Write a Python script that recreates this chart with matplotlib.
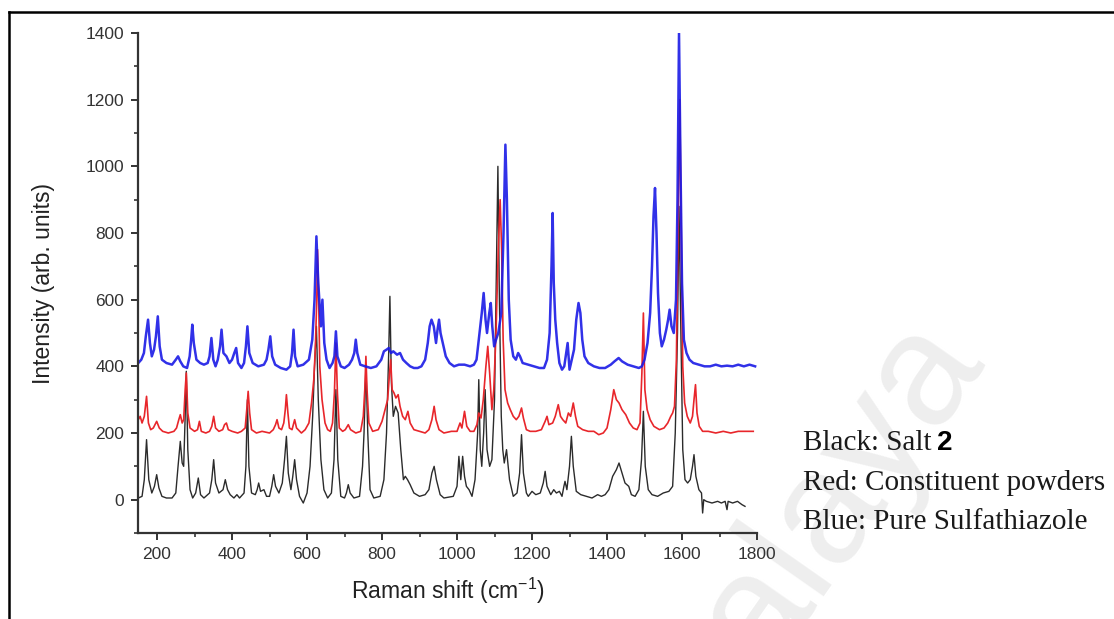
import matplotlib
matplotlib.use("Agg")
import matplotlib.pyplot as plt
from matplotlib.lines import Line2D

# Raman spectra (x in cm-1, y in arb. units, offsets included)
black_x = [150, 160, 166, 172, 178, 186, 193, 199, 205, 213, 225, 240, 250, 256, 262, 267, 271, 275, 278, 282,
           288, 295, 303, 310, 316, 325, 340, 346, 351, 356, 365, 376, 382, 388, 395, 405, 413, 420, 432, 437,
           441, 445, 452, 462, 467, 471, 476, 485, 492, 500, 506, 511, 516, 525, 534, 540, 545, 550, 557, 562,
           567, 572, 580, 590, 600, 608, 615, 620, 625, 630, 637, 645, 655, 665, 672, 677, 682, 690, 700, 705,
           710, 715, 725, 740, 748, 752, 757, 762, 768, 778, 795, 805, 812, 818, 821, 825, 830, 836, 843, 850,
           857, 862, 868, 875, 885, 900, 915, 925, 933, 939, 945, 955, 965, 990, 1000, 1005, 1010, 1015, 1020, 1025,
           1032, 1040, 1048, 1055, 1058, 1062, 1066, 1071, 1075, 1080, 1087, 1093, 1100, 1105, 1109, 1113, 1118, 1122, 1126, 1132,
           1140, 1150, 1160, 1167, 1172, 1177, 1185, 1190, 1200, 1210, 1222, 1230, 1235, 1240, 1250, 1258, 1265, 1273, 1280, 1285,
           1288, 1293, 1300, 1305, 1310, 1318, 1330, 1345, 1360, 1375, 1385, 1395, 1405, 1415, 1425, 1432, 1440, 1448, 1458, 1465,
           1475, 1485, 1492, 1497, 1502, 1510, 1520, 1535, 1550, 1565, 1575, 1582, 1588, 1592, 1597, 1602, 1608, 1615, 1622, 1628,
           1632, 1637, 1645, 1652, 1655, 1658, 1665, 1680, 1695, 1705, 1715, 1720, 1723, 1735, 1748, 1760, 1768]
black_y = [5, 10, 60, 180, 60, 20, 40, 75, 35, 10, 5, 5, 20, 100, 175, 110, 100, 250, 385, 150,
           30, 5, 20, 65, 15, 5, 20, 60, 120, 50, 20, 30, 60, 30, 15, 5, 15, 5, 20, 100,
           300, 100, 20, 15, 30, 50, 25, 30, 10, 10, 40, 75, 40, 20, 50, 120, 190, 80, 30, 70,
           120, 60, 10, -10, 20, 100, 250, 400, 520, 300, 120, 30, 5, 20, 120, 330, 120, 10, 5, 20,
           45, 20, 5, 10, 100, 200, 400, 200, 30, 5, 10, 60, 200, 450, 610, 350, 250, 280, 260, 150,
           60, 70, 60, 45, 20, 10, 15, 30, 80, 100, 60, 15, 5, 10, 40, 130, 60, 130, 70, 40,
           30, 10, 60, 200, 360, 150, 100, 200, 330, 150, 100, 120, 300, 700, 1000, 600, 250, 150, 110, 150,
           60, 10, 20, 80, 195, 80, 20, 10, 25, 15, 20, 50, 85, 40, 15, 30, 20, 25, 10, 40,
           55, 30, 100, 190, 100, 25, 15, 10, 5, 15, 10, 15, 30, 70, 90, 110, 80, 50, 40, 15,
           10, 30, 120, 265, 100, 30, 15, 10, 20, 25, 40, 200, 500, 880, 500, 150, 60, 50, 60, 100,
           135, 70, 30, 20, -40, 0, -5, -10, -5, -10, -5, -30, -5, -10, -5, -15, -20]

red_x = [150, 155, 160, 166, 172, 177, 183, 190, 199, 206, 215, 230, 245, 252, 258, 262, 267, 271, 275, 278,
         282, 288, 300, 308, 313, 318, 330, 340, 346, 351, 356, 365, 375, 380, 385, 390, 400, 415, 425, 435,
         440, 443, 447, 452, 465, 480, 500, 510, 516, 520, 525, 532, 538, 542, 545, 549, 553, 560, 567, 572,
         585, 595, 605, 612, 618, 622, 626, 628, 631, 634, 640, 648, 655, 662, 668, 673, 677, 681, 686, 695,
         702, 710, 716, 730, 743, 750, 754, 757, 760, 765, 775, 790, 800, 808, 815, 820, 823, 827, 832, 837,
         843, 848, 855, 862, 869, 875, 885, 900, 915, 925, 933, 939, 944, 952, 965, 985, 1000, 1008, 1013, 1020,
         1026, 1035, 1045, 1053, 1058, 1064, 1070, 1077, 1082, 1087, 1093, 1098, 1104, 1110, 1115, 1119, 1123, 1128, 1135, 1142,
         1150, 1158, 1165, 1172, 1177, 1185, 1195, 1210, 1225, 1235, 1240, 1245, 1255, 1262, 1270, 1276, 1282, 1290, 1297, 1303,
         1310, 1316, 1322, 1335, 1350, 1365, 1378, 1390, 1400, 1410, 1418, 1425, 1432, 1440, 1450, 1460, 1470, 1480, 1488, 1493,
         1497, 1501, 1507, 1515, 1525, 1540, 1552, 1562, 1570, 1575, 1580, 1585, 1590, 1594, 1598, 1602, 1607, 1614, 1622, 1628,
         1632, 1636, 1640, 1646, 1655, 1670, 1690, 1710, 1730, 1750, 1770, 1790]
red_y = [240, 250, 230, 250, 310, 230, 210, 215, 235, 215, 205, 200, 205, 215, 240, 255, 230, 240, 330, 380,
         260, 215, 205, 210, 235, 205, 200, 205, 220, 250, 215, 205, 210, 225, 230, 210, 205, 200, 205, 215,
         280, 325, 260, 210, 200, 205, 200, 210, 225, 240, 215, 210, 230, 270, 315, 260, 215, 210, 240, 215,
         200, 210, 230, 290, 360, 450, 600, 750, 600, 400, 300, 230, 210, 205, 230, 320, 470, 320, 215, 205,
         210, 225, 210, 200, 205, 250, 330, 430, 330, 230, 205, 210, 235, 270, 300, 380, 420, 330, 320, 305,
         315, 280, 250, 240, 265, 230, 210, 205, 200, 210, 240, 280, 240, 210, 200, 205, 205, 230, 215, 265,
         220, 205, 205, 225, 260, 245, 300, 400, 460, 380, 270, 330, 500, 750, 900, 750, 480, 330, 290, 270,
         250, 240, 250, 275, 245, 210, 205, 205, 210, 235, 250, 225, 230, 250, 285, 250, 240, 230, 260, 250,
         290, 250, 220, 210, 205, 205, 195, 200, 215, 270, 330, 300, 290, 270, 255, 230, 215, 210, 230, 380,
         560, 330, 270, 240, 220, 210, 215, 230, 250, 260, 280, 420, 850, 1200, 800, 400, 290, 250, 230, 250,
         300, 345, 260, 220, 205, 205, 200, 205, 200, 205, 205, 205]

blue_x = [150, 158, 165, 170, 176, 181, 186, 192, 197, 202, 207, 213, 225, 240, 250, 256, 262, 270, 280, 287,
          291, 294, 298, 305, 315, 325, 335, 340, 345, 350, 356, 362, 368, 372, 377, 385, 393, 400, 406, 411,
          416, 425, 432, 437, 441, 446, 455, 470, 485, 492, 497, 502, 507, 515, 530, 545, 555, 560, 564, 568,
          575, 590, 605, 614, 620, 625, 630, 637, 641, 646, 652, 660, 668, 673, 677, 681, 690, 700, 712, 720,
          726, 730, 734, 742, 755, 770, 785, 798, 805, 812, 818, 824, 830, 840, 848, 856, 865, 875, 885, 895,
          905, 915, 922, 927, 932, 938, 944, 948, 952, 956, 962, 970, 980, 992, 1005, 1020, 1035, 1045, 1052, 1060,
          1066, 1071, 1076, 1080, 1086, 1090, 1094, 1099, 1104, 1110, 1118, 1124, 1129, 1133, 1138, 1143, 1150, 1157, 1163, 1168,
          1175, 1190, 1205, 1220, 1232, 1240, 1247, 1252, 1255, 1258, 1262, 1267, 1273, 1280, 1286, 1291, 1295, 1300, 1306, 1312,
          1318, 1324, 1329, 1334, 1340, 1350, 1365, 1380, 1395, 1410, 1420, 1431, 1440, 1455, 1470, 1485, 1493, 1500, 1508, 1515,
          1520, 1524, 1528, 1532, 1536, 1541, 1546, 1552, 1558, 1563, 1567, 1572, 1578, 1584, 1588, 1592, 1596, 1600, 1605, 1612,
          1620, 1630, 1645, 1660, 1675, 1690, 1705, 1720, 1735, 1750, 1765, 1780, 1795]
blue_y = [410, 420, 440, 490, 540, 470, 430, 450, 490, 550, 460, 420, 410, 405, 420, 430, 415, 400, 395, 430,
          480, 525, 470, 420, 410, 405, 410, 430, 485, 420, 400, 420, 460, 510, 440, 430, 410, 420, 440, 455,
          410, 395, 410, 460, 520, 440, 410, 400, 405, 420, 450, 490, 430, 405, 395, 390, 400, 440, 510, 430,
          400, 405, 420, 480, 600, 790, 650, 520, 600, 470, 420, 395, 410, 430, 505, 430, 400, 395, 405, 420,
          440, 480, 440, 405, 400, 395, 400, 420, 445, 450, 455, 440, 445, 435, 440, 420, 410, 400, 395, 395,
          400, 420, 470, 520, 540, 520, 470, 510, 540, 500, 470, 430, 410, 400, 405, 405, 400, 405, 420, 500,
          560, 620, 540, 500, 560, 590, 520, 460, 480, 500, 560, 800, 1065, 900, 600, 480, 430, 420, 440, 430,
          410, 405, 400, 395, 395, 420, 500, 700, 860, 650, 540, 470, 410, 390, 400, 440, 470, 390, 420, 450,
          540, 590, 560, 480, 430, 410, 400, 395, 395, 405, 415, 425, 415, 405, 400, 395, 400, 420, 470, 560,
          700, 850, 935, 800, 620, 500, 460, 480, 510, 540, 570, 520, 500, 600, 900, 1400, 1000, 650, 480, 440,
          420, 410, 405, 400, 400, 405, 400, 402, 400, 405, 400, 405, 400]

x_ticks = [200, 400, 600, 800, 1000, 1200, 1400, 1600, 1800]
y_ticks = [0, 200, 400, 600, 800, 1000, 1200, 1400]
notes = ["Black: Salt", "Red: Constituent powders", "Blue: Pure Sulfathiazole"]

plt.rcParams['font.family'] = ['Liberation Sans', 'DejaVu Sans']
plt.rcParams['mathtext.default'] = 'regular'

fig = plt.figure(figsize=(11.14, 6.19), dpi=100)
W, H = 1114.0, 619.0

# faint watermark behind everything
fig.text(800 / W, 1 - 540 / H, "Malaya", rotation=55, fontsize=115, color='#eeeeee',
         ha='center', va='center', zorder=0)

ax = fig.add_axes([138.3 / W, 1 - 533 / H, (757 - 138.3) / W, 500 / H])
ax.set_zorder(2)
ax.set_facecolor('none')
ax.plot(black_x, black_y, color='#2b2b2b', lw=1.0)
ax.plot(red_x, red_y, color='#e8262b', lw=1.2)
ax.plot(blue_x, blue_y, color='#1a1ae6', lw=1.8, alpha=0.9)

ax.set_xlim(150, 1800)
ax.set_ylim(-100, 1400)
ax.set_xticks(x_ticks)
ax.set_yticks(y_ticks)
ax.set_xticks(range(300, 1800, 200), minor=True)
ax.set_yticks(range(-100, 1400, 200), minor=True)
for s in ['top', 'right']:
    ax.spines[s].set_visible(False)
for s in ['left', 'bottom']:
    ax.spines[s].set_linewidth(1.6)
    ax.spines[s].set_color('#333333')
ax.tick_params(which='major', direction='out', length=5, width=1.4, color='#333333',
               labelsize=12.5, labelcolor='#333333', pad=5)
ax.tick_params(which='minor', direction='out', length=3, width=1.2, color='#333333')
ax.set_xlabel("Raman shift (cm$^{-1}$)", fontsize=16.5, color='#222222', labelpad=10)
ax.set_ylabel("Intensity (arb. units)", fontsize=16.5, color='#222222', labelpad=22)

# legend text on the right
ys = [450, 490, 529]
for t, yy in zip(notes, ys):
    txt = fig.text(803 / W, 1 - yy / H, t, fontsize=21, family='Liberation Serif',
                   color='#1a1a1a', va='baseline', zorder=3)
    if t.startswith("Black"):
        fig.canvas.draw()
        bb = txt.get_window_extent()
        fig.text((bb.x1 + 5) / W, 1 - yy / H, "2", fontsize=20, fontweight='bold',
                 family='Liberation Sans', color='black', va='baseline', zorder=3)

# frame line on left and top
fig.add_artist(Line2D([9 / W, 9 / W], [0, 1 - 12 / H], color='black', lw=1.8))
fig.add_artist(Line2D([9 / W, 1], [1 - 12 / H, 1 - 12 / H], color='black', lw=1.8))

fig.savefig("out.png", dpi=100)
